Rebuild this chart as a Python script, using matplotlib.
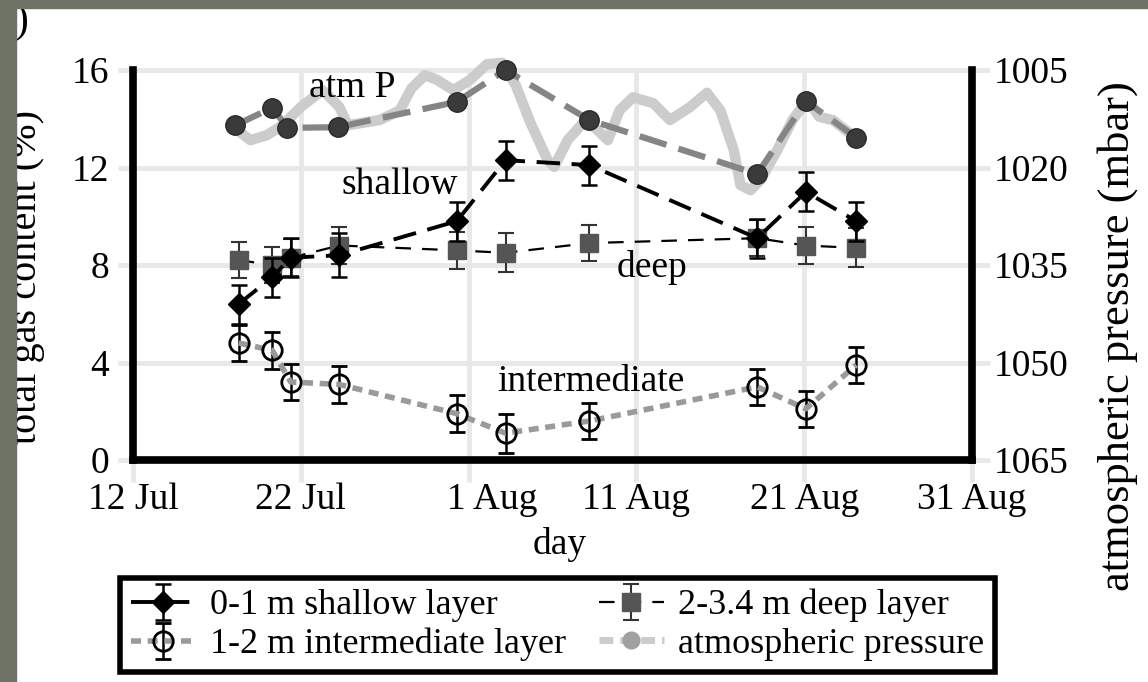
import matplotlib
matplotlib.use('Agg')
import matplotlib.pyplot as plt
from matplotlib.lines import Line2D
from matplotlib.patches import Rectangle

plt.rcParams['font.family'] = ['Liberation Serif', 'DejaVu Serif']

# sampling days, counted from 12 Jul
day = [6.3, 8.3, 9.4, 12.3, 19.3, 22.2, 27.2, 37.2, 40.1, 43.1]

shallow = [6.4, 7.5, 8.3, 8.4, 9.8, 12.3, 12.1, 9.1, 11.0, 9.8]
shallow_err = [0.8, 0.8, 0.8, 0.9, 0.8, 0.8, 0.8, 0.8, 0.8, 0.8]
deep = [8.2, 8.0, 8.3, 8.8, 8.6, 8.5, 8.9, 9.1, 8.8, 8.7]
deep_err = [0.75, 0.75, 0.75, 0.75, 0.75, 0.8, 0.75, 0.75, 0.75, 0.8]
intermediate = [4.8, 4.5, 3.2, 3.1, 1.9, 1.1, 1.6, 3.0, 2.1, 3.9]
intermediate_err = [0.75, 0.75, 0.75, 0.75, 0.75, 0.8, 0.75, 0.75, 0.75, 0.75]

atm_day = [6.1, 8.3, 9.2, 12.2, 19.3, 22.2, 27.2, 37.2, 40.1, 43.1]
atm_p = [1013.5, 1010.8, 1013.9, 1013.8, 1009.9, 1005.0, 1012.7, 1021.0, 1009.8, 1015.4]

# continuous pressure record
cont_day = [6.2, 7.0, 8.0, 8.9, 10.0, 11.3, 12.3, 12.8, 13.5, 14.7, 15.9, 16.6,
            17.4, 18.1, 19.1, 20.1, 21.1, 22.0, 22.8, 23.7, 24.7, 25.1, 25.9,
            26.8, 27.5, 28.3, 29.0, 29.8, 31.0, 32.0, 33.2, 34.2, 35.0, 35.8,
            36.2, 36.8, 37.4, 38.4, 39.3, 40.2, 40.9, 41.7, 42.7, 43.2]
cont_p = [1014.2, 1015.8, 1015.0, 1013.5, 1010.7, 1008.1, 1010.7, 1013.5,
          1013.2, 1012.7, 1011.2, 1007.8, 1005.8, 1006.5, 1008.1, 1006.5,
          1004.1, 1003.9, 1007.3, 1013.2, 1018.8, 1019.9, 1015.8, 1013.2,
          1013.8, 1015.8, 1011.2, 1009.2, 1010.1, 1012.7, 1010.7, 1008.5,
          1011.2, 1017.3, 1022.7, 1023.5, 1021.9, 1017.3, 1012.7, 1009.6,
          1012.2, 1012.7, 1014.7, 1015.3]

xticks = [0, 10, 20, 30, 40, 50]
# "1 Aug" is padded in the original, so it sits right of its tick
xlabels = ['12 Jul', '22 Jul', '     1 Aug', '11 Aug', '21 Aug', '31 Aug']
yticks = [0, 4, 8, 12, 16]
pticks = [1005, 1020, 1035, 1050, 1065]

grid_c = '#e8e8e8'
fs = 27

fig = plt.figure(figsize=(11.48, 6.82), dpi=100)
ax = fig.add_axes([0.11585, 0.32551, 0.73084, 0.60044])
ax2 = ax.twinx()
ax.set_zorder(2)
ax2.set_zorder(1)
ax.patch.set_visible(False)

ax.set_xlim(0, 50)
ax.set_ylim(0, 16.8)
ax2.set_ylim(1065, 1065 - 16.8 * 3.75)

# grid lives on the lower axes so the pressure lines sit above it
ax2.grid(axis='y', color=grid_c, lw=3.5)
ax2.vlines(xticks, 1065, 1005, color=grid_c, lw=3.5, zorder=0)
ax2.set_axisbelow(True)

ax2.plot(cont_day, cont_p, color='#cccccc', lw=7.5, solid_capstyle='round',
         solid_joinstyle='round', zorder=2)
ax2.plot(atm_day, atm_p, color='#858585', lw=4.5, ls=(0, (4.5, 2)), zorder=3,
         marker='o', ms=14, mfc='#3a3a3a', mec='#2a2a2a')

e_int = ax.errorbar(day, intermediate, yerr=intermediate_err, color='#9a9a9a',
                    lw=4, ls=(0, (1.8, 1.2)), marker='o', ms=14, mfc='none',
                    mec='black', mew=2, ecolor='black', elinewidth=1.8,
                    capsize=6, capthick=1.8, zorder=3)
e_deep = ax.errorbar(day, deep, yerr=deep_err, color='black', lw=1.6,
                     ls=(0, (7, 5)), marker='s', ms=13, mfc='#555555',
                     mec='#555555', ecolor='#333333', elinewidth=1.5,
                     capsize=6, capthick=1.5, zorder=4)
e_sh = ax.errorbar(day, shallow, yerr=shallow_err, color='black', lw=2.8,
                   ls=(0, (6, 3)), marker='D', ms=11, mfc='black', mec='black',
                   ecolor='black', elinewidth=1.8, capsize=6, capthick=1.8,
                   zorder=5)

ax.text(13.05, 15.26, 'atm P', fontsize=fs, ha='center', va='center')
ax.text(15.9, 11.28, 'shallow', fontsize=fs, ha='center', va='center')
ax.text(30.9, 7.88, 'deep', fontsize=fs, ha='center', va='center')
ax.text(27.3, 3.2, 'intermediate', fontsize=fs, ha='center', va='center')

ax.set_xticks(xticks)
ax.set_xticklabels(xlabels, fontsize=fs)
ax.set_yticks(yticks)
ax.set_yticklabels([str(v) for v in yticks], fontsize=fs)
ax2.set_yticks(pticks)
ax2.set_yticklabels([str(v) for v in pticks], fontsize=fs)

ax.tick_params(axis='y', direction='out', length=11, width=3.5, color=grid_c, pad=6)
ax.tick_params(axis='x', direction='out', length=16, width=3.5, color=grid_c, pad=0)
ax2.tick_params(axis='y', direction='out', length=13, width=3.5, color=grid_c, pad=3)

ax.spines['top'].set_visible(False)
for s in ['left', 'right']:
    ax.spines[s].set_bounds(0, 16)
    ax.spines[s].set_linewidth(5.5)
ax.spines['bottom'].set_linewidth(5.5)
for s in ax2.spines.values():
    s.set_visible(False)

fig.text(560 / 1148, 1 - 545 / 682, 'day', fontsize=fs, ha='center', va='center')
fig.text(1118 / 1148, 1 - 336 / 682, 'atmospheric pressure (mbar)', fontsize=32,
         rotation=90, ha='center', va='center')
fig.text(27 / 1148, 1 - 277 / 682, 'total gas content (%)', fontsize=29,
         rotation=90, ha='center', va='center')
fig.text(22 / 1148, 1 - 22 / 682, ')', fontsize=30, ha='center', va='center')

atm_handle = Line2D([], [], color='#cccccc', lw=5, ls=(0, (2, 1)), marker='o',
                    ms=12, mfc='#a0a0a0', mec='#a0a0a0')
leg = fig.legend([e_sh, e_int, e_deep, atm_handle],
                 ['0-1 m shallow layer', '1-2 m intermediate layer',
                  '2-3.4 m deep layer', 'atmospheric pressure'],
                 ncol=2, loc='upper left', bbox_to_anchor=(120 / 1148, 1 - 578 / 682),
                 fontsize=26, frameon=True, fancybox=False, framealpha=1,
                 handlelength=1.8, handletextpad=0.4, columnspacing=0.9,
                 labelspacing=0.15, borderpad=0.3, borderaxespad=0)
leg.get_frame().set_edgecolor('black')
leg.get_frame().set_linewidth(4)

# dark border of the slide
bg = '#6f7366'
fig.patches.append(Rectangle((0, 0), 16 / 1148, 1, transform=fig.transFigure,
                             color=bg, zorder=10))
fig.patches.append(Rectangle((0, 1 - 8 / 682), 1, 8 / 682, transform=fig.transFigure,
                             color=bg, zorder=10))

fig.savefig('out.png', dpi=100)
